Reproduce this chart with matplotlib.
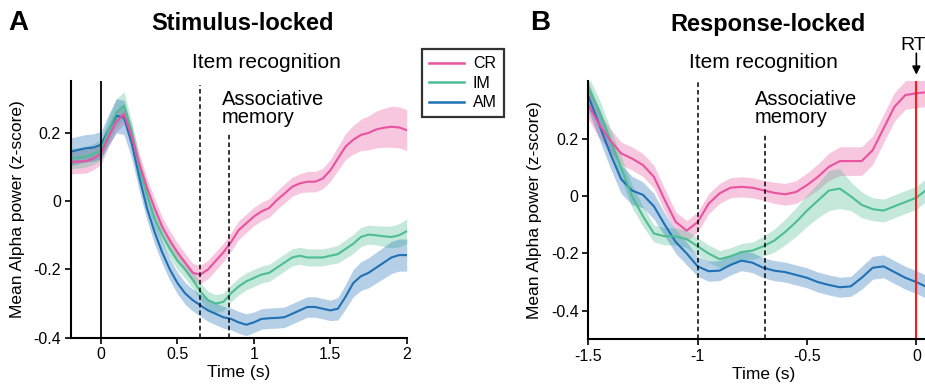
import numpy as np
import matplotlib
matplotlib.use("Agg")
import matplotlib.pyplot as plt
from matplotlib.lines import Line2D

plt.rcParams['font.family'] = ['Liberation Sans', 'DejaVu Sans']

# ---------------- Data: Stimulus-locked (panel A) ----------------
t_stim = [-0.2, -0.15, -0.1, -0.05, 0.0, 0.05, 0.1, 0.15, 0.2, 0.25, 0.3, 0.35, 0.4, 0.45,
          0.5, 0.55, 0.6, 0.65, 0.7, 0.75, 0.8, 0.85, 0.9, 0.95, 1.0, 1.05, 1.1, 1.15,
          1.2, 1.25, 1.3, 1.35, 1.4, 1.45, 1.5, 1.55, 1.6, 1.65, 1.7, 1.75, 1.8, 1.85,
          1.9, 1.95, 2.0]
cr_stim = [0.115, 0.116, 0.117, 0.125, 0.14, 0.19, 0.233, 0.255, 0.19, 0.11, 0.04, -0.02,
           -0.075, -0.115, -0.15, -0.18, -0.21, -0.215, -0.2, -0.175, -0.15, -0.12, -0.085,
           -0.065, -0.045, -0.03, -0.02, 0.003, 0.022, 0.042, 0.052, 0.057, 0.057, 0.066,
           0.09, 0.125, 0.16, 0.18, 0.194, 0.2, 0.21, 0.215, 0.218, 0.216, 0.208]
cr_stim_err = [0.035, 0.035, 0.035, 0.033, 0.032, 0.03, 0.03, 0.03, 0.03, 0.03, 0.028, 0.028,
               0.028, 0.028, 0.027, 0.027, 0.027, 0.027, 0.027, 0.027, 0.027, 0.027, 0.027,
               0.027, 0.027, 0.027, 0.027, 0.027, 0.028, 0.028, 0.028, 0.03, 0.03, 0.03, 0.032,
               0.035, 0.038, 0.042, 0.046, 0.05, 0.054, 0.057, 0.06, 0.06, 0.06]
im_stim = [0.125, 0.127, 0.13, 0.138, 0.15, 0.21, 0.26, 0.28, 0.2, 0.1, 0.02, -0.05, -0.1,
           -0.14, -0.175, -0.2, -0.23, -0.265, -0.29, -0.3, -0.295, -0.27, -0.25, -0.235,
           -0.225, -0.215, -0.21, -0.195, -0.18, -0.165, -0.16, -0.165, -0.165, -0.165,
           -0.16, -0.155, -0.14, -0.125, -0.105, -0.098, -0.1, -0.103, -0.105, -0.1, -0.088]
im_stim_err = [0.03, 0.03, 0.03, 0.03, 0.03, 0.035, 0.04, 0.04, 0.035, 0.03, 0.028, 0.027,
               0.027, 0.026, 0.026, 0.026, 0.026, 0.026, 0.026, 0.026, 0.026, 0.025, 0.025,
               0.025, 0.025, 0.025, 0.025, 0.025, 0.025, 0.025, 0.025, 0.025, 0.025, 0.025,
               0.025, 0.026, 0.027, 0.028, 0.028, 0.028, 0.028, 0.03, 0.032, 0.034, 0.036]
am_stim = [0.145, 0.15, 0.155, 0.157, 0.165, 0.21, 0.25, 0.245, 0.17, 0.07, -0.02, -0.09,
           -0.15, -0.2, -0.24, -0.27, -0.29, -0.305, -0.32, -0.33, -0.34, -0.345, -0.355,
           -0.362, -0.355, -0.345, -0.343, -0.342, -0.34, -0.33, -0.32, -0.31, -0.31, -0.315,
           -0.32, -0.315, -0.28, -0.24, -0.22, -0.21, -0.195, -0.18, -0.165, -0.158, -0.158]
am_stim_err = [0.04, 0.04, 0.04, 0.04, 0.04, 0.045, 0.05, 0.05, 0.045, 0.04, 0.035, 0.035,
               0.033, 0.032, 0.032, 0.032, 0.032, 0.032, 0.032, 0.032, 0.032, 0.032, 0.032,
               0.032, 0.03, 0.03, 0.03, 0.03, 0.03, 0.03, 0.03, 0.03, 0.03, 0.03, 0.03, 0.033,
               0.036, 0.04, 0.042, 0.044, 0.045, 0.046, 0.047, 0.047, 0.047]

# ---------------- Data: Response-locked (panel B) ----------------
t_resp = [-1.5, -1.45, -1.4, -1.35, -1.3, -1.25, -1.2, -1.15, -1.1, -1.05, -1.0, -0.95,
          -0.9, -0.85, -0.8, -0.75, -0.7, -0.65, -0.6, -0.55, -0.5, -0.45, -0.4, -0.35,
          -0.3, -0.25, -0.2, -0.15, -0.1, -0.05, 0.0, 0.05]
cr_resp = [0.32, 0.25, 0.196, 0.15, 0.132, 0.109, 0.068, -0.014, -0.09, -0.12, -0.09,
           -0.026, 0.01, 0.03, 0.033, 0.03, 0.021, 0.012, 0.007, 0.015, 0.039, 0.068, 0.103,
           0.123, 0.123, 0.123, 0.161, 0.237, 0.313, 0.354, 0.36, 0.364]
cr_resp_err = [0.05, 0.045, 0.04, 0.04, 0.04, 0.04, 0.04, 0.04, 0.035, 0.035, 0.035, 0.035,
               0.035, 0.035, 0.035, 0.035, 0.035, 0.037, 0.038, 0.04, 0.042, 0.045, 0.048,
               0.05, 0.05, 0.05, 0.05, 0.05, 0.05, 0.05, 0.05, 0.05]
im_resp = [0.38, 0.3, 0.2, 0.1, 0.0, -0.07, -0.13, -0.14, -0.14, -0.15, -0.175, -0.2,
           -0.22, -0.21, -0.195, -0.19, -0.175, -0.155, -0.125, -0.09, -0.05, -0.015, 0.02,
           0.027, 0.0, -0.03, -0.045, -0.05, -0.035, -0.02, -0.005, 0.025]
im_resp_err = [0.04, 0.04, 0.04, 0.04, 0.04, 0.035, 0.03, 0.03, 0.03, 0.03, 0.03, 0.03,
               0.03, 0.03, 0.03, 0.03, 0.035, 0.04, 0.045, 0.05, 0.055, 0.06, 0.07, 0.07,
               0.05, 0.045, 0.04, 0.04, 0.04, 0.04, 0.04, 0.04]
am_resp = [0.35, 0.25, 0.15, 0.06, 0.02, 0.005, -0.035, -0.1, -0.16, -0.2, -0.245, -0.262,
           -0.26, -0.24, -0.225, -0.232, -0.25, -0.26, -0.265, -0.275, -0.285, -0.3, -0.31,
           -0.318, -0.315, -0.285, -0.25, -0.245, -0.265, -0.285, -0.3, -0.318]
am_resp_err = [0.05, 0.05, 0.05, 0.05, 0.05, 0.045, 0.045, 0.04, 0.04, 0.04, 0.035, 0.035,
               0.035, 0.035, 0.035, 0.035, 0.035, 0.035, 0.035, 0.035, 0.035, 0.035, 0.035,
               0.035, 0.035, 0.04, 0.04, 0.04, 0.04, 0.04, 0.04, 0.04]

labels = ['CR', 'IM', 'AM']
colors = ['#E8529F', '#4DBD92', '#1F70B5']

W, H = 925, 389
fig = plt.figure(figsize=(W / 100, H / 100), dpi=100)


def px(x, y):
    return x / W, 1 - y / H


axA = fig.add_axes([70.5 / W, 1 - 337.7 / H, (406.7 - 70.5) / W, (337.7 - 81) / H])
axB = fig.add_axes([588.3 / W, 1 - 339.3 / H, 1.6 * 218.7 / W, (339.3 - 81) / H])

series_A = [(cr_stim, cr_stim_err), (im_stim, im_stim_err), (am_stim, am_stim_err)]
series_B = [(cr_resp, cr_resp_err), (im_resp, im_resp_err), (am_resp, am_resp_err)]

for ax, t, series in [(axA, t_stim, series_A), (axB, t_resp, series_B)]:
    t = np.array(t)
    for (m, e), c in zip(series, colors):
        m = np.array(m); e = np.array(e)
        ax.fill_between(t, m - e, m + e, color=c, alpha=0.33, lw=0)
    for (m, e), c in zip(reversed(series), reversed(colors)):
        ax.plot(t, m, color=c, lw=1.5)
    for s in ['top', 'right']:
        ax.spines[s].set_visible(False)
    for s in ['left', 'bottom']:
        ax.spines[s].set_linewidth(1.5)
    ax.tick_params(direction='out', length=4, width=1.2, labelsize=11.5, pad=3)
    ax.set_xlabel('Time (s)', fontsize=12.5, labelpad=2)
    ax.set_ylabel('Mean Alpha power (z-score)', fontsize=12.5, labelpad=6)

# Panel A axes
axA.set_xlim(-0.2, 2.0)
axA.set_ylim(-0.4, 0.352)
axA.set_xticks([0, 0.5, 1, 1.5, 2])
axA.set_xticklabels(['0', '0.5', '1', '1.5', '2'])
axA.set_yticks([0.2, 0, -0.2, -0.4])
axA.set_yticklabels(['0.2', '0', '-0.2', '-0.4'])
axA.axvline(0, color='black', lw=1.3)
axA.plot([0.646, 0.646], [-0.4, 0.34], color='black', lw=1.1, ls=(0, (3, 2)))
axA.plot([0.836, 0.836], [-0.4, 0.196], color='black', lw=1.1, ls=(0, (3, 2)))

# Panel B axes
axB.set_xlim(-1.5, 0.1)
axB.set_ylim(-0.5, 0.403)
axB.set_xticks([-1.5, -1, -0.5, 0])
axB.set_xticklabels(['-1.5', '-1', '-0.5', '0'])
axB.set_yticks([0.2, 0, -0.2, -0.4])
axB.set_yticklabels(['0.2', '0', '-0.2', '-0.4'])
axB.plot([-1.0, -1.0], [-0.5, 0.403], color='black', lw=1.1, ls=(0, (3, 2)))
axB.plot([-0.694, -0.694], [-0.5, 0.213], color='black', lw=1.1, ls=(0, (3, 2)))
axB.axvline(0, color='#FF1A1A', lw=1.5)
axB.annotate('', xy=(0, 0.425), xytext=(0, 0.50), xycoords='data',
             arrowprops=dict(arrowstyle='-|>', color='black', lw=1.2,
                             mutation_scale=12, shrinkA=0, shrinkB=0),
             annotation_clip=False)
fig.text(*px(913, 46), 'RT', fontsize=14, ha='center', va='center')

# Titles and panel letters
fig.text(*px(18, 23), 'A', fontsize=20, fontweight='bold', ha='center', va='center')
fig.text(*px(540, 23), 'B', fontsize=20, fontweight='bold', ha='center', va='center')
fig.text(*px(243, 24), 'Stimulus-locked', fontsize=17, fontweight='bold', ha='center', va='center')
fig.text(*px(768, 24), 'Response-locked', fontsize=17, fontweight='bold', ha='center', va='center')

# Annotations
fig.text(*px(266.7, 63), 'Item recognition', fontsize=15, ha='center', va='center')
fig.text(*px(763, 63), 'Item recognition', fontsize=15, ha='center', va='center')
fig.text(*px(221.7, 90), 'Associative\nmemory', fontsize=14.5, ha='left', va='top', linespacing=0.95)
fig.text(*px(755, 90), 'Associative\nmemory', fontsize=14.5, ha='left', va='top', linespacing=0.95)

# Legend
handles = [Line2D([], [], color=c, lw=1.8) for c in colors]
leg = fig.legend(handles, labels, loc='upper left', bbox_to_anchor=px(421.7, 49),
                 borderaxespad=0, fontsize=11.5, frameon=True, fancybox=False,
                 handlelength=2.2, handletextpad=0.55, labelspacing=0.28, borderpad=0.45)
leg.get_frame().set_edgecolor('black')
leg.get_frame().set_linewidth(1.6)

fig.savefig('out.png', dpi=100)
